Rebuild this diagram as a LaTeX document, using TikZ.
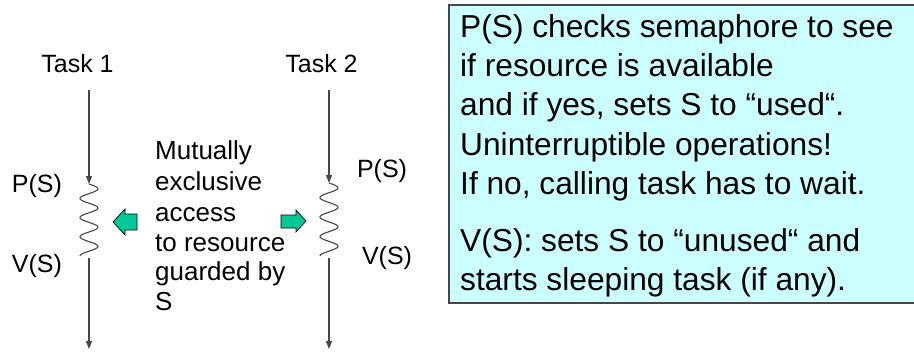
\documentclass[tikz,border=0pt]{standalone}
\usepackage{fontspec}
\setmainfont{Liberation Sans}
\usetikzlibrary{arrows.meta}
\definecolor{boxfill}{RGB}{204,255,255}
\definecolor{arrgreen}{RGB}{0,200,150}
\definecolor{linegray}{RGB}{70,70,70}
\tikzset{
  lbl/.style={inner sep=0pt, anchor=base, font=\fontsize{25}{25}\selectfont},
  midtxt/.style={inner sep=0pt, anchor=base west, font=\fontsize{26}{26}\selectfont},
  boxtxt/.style={inner sep=0pt, anchor=base west, font=\fontsize{31.7}{31.7}\selectfont},
  flow/.style={draw=linegray, line width=1.1pt, -{Triangle[length=8pt,width=6pt]}},
  wave/.style={draw=linegray, line width=1.1pt},
  fat/.style={draw=black, line width=0.7pt, fill=arrgreen}
}
\begin{document}
\begin{tikzpicture}[x=1pt,y=-1pt]
\useasboundingbox (0,0) rectangle (914,353);
% info box
\begin{scope}
\clip (0,0) rectangle (914,353);
\draw[fill=boxfill, draw=linegray, line width=1.3pt] (449,5) rectangle (925,303);
\end{scope}
\node[boxtxt] (b1) at (460,38) {P(S) checks semaphore to see};
\node[boxtxt] (b2) at (460,77) {if resource is available};
\node[boxtxt] (b3) at (460,116) {and if yes, sets S to “used“.};
\node[boxtxt] (b4) at (460,155) {Uninterruptible operations!};
\node[boxtxt] (b5) at (460,194) {If no, calling task has to wait.};
\node[boxtxt] (b6) at (460,251) {V(S): sets S to “unused“ and};
\node[boxtxt] (b7) at (460,290) {starts sleeping task (if any).};
% task labels
\node[lbl] (t1) at (77.5,73) {Task 1};
\node[lbl] (t2) at (321.5,73) {Task 2};
\node[lbl] (p1) at (37,192) {P(S)};
\node[lbl] (v1) at (37,272) {V(S)};
\node[lbl] (p2) at (382,177) {P(S)};
\node[lbl] (v2) at (387,264) {V(S)};
% middle text
\node[midtxt] (m1) at (155,160) {Mutually};
\node[midtxt] (m2) at (155,190) {exclusive};
\node[midtxt] (m3) at (155,221) {access};
\node[midtxt] (m4) at (155,251) {to resource};
\node[midtxt] (m5) at (155,280) {guarded by};
\node[midtxt] (m6) at (155,310) {S};
% task 1 flow
\coordinate (a1) at (89,90);
\coordinate (z1) at (89,184);
\coordinate (e1) at (89,258);
\coordinate (f1) at (89,349);
\draw[flow] (a1) -- (z1);
\draw[wave] plot[domain=0:72, samples=120] ({89+9*sin(\x/72*3.75*360)}, {184+\x});
\draw[flow] (e1) -- (f1);
% task 2 flow
\coordinate (a2) at (329,90);
\coordinate (z2) at (329,183);
\coordinate (e2) at (329,258);
\coordinate (f2) at (329,349);
\draw[flow] (a2) -- (z2);
\draw[wave] plot[domain=0:73, samples=120] ({329+9*sin(\x/73*3.75*360)}, {183+\x});
\draw[flow] (e2) -- (f2);
% green block arrows
\draw[fat] (113,222) -- (125,209) -- (125,214) -- (137,214) -- (137,230) -- (125,230) -- (125,235) -- cycle;
\draw[fat] (306,221) -- (296,210) -- (296,215) -- (281,215) -- (281,228) -- (296,228) -- (296,232) -- cycle;
\end{tikzpicture}
\end{document}
